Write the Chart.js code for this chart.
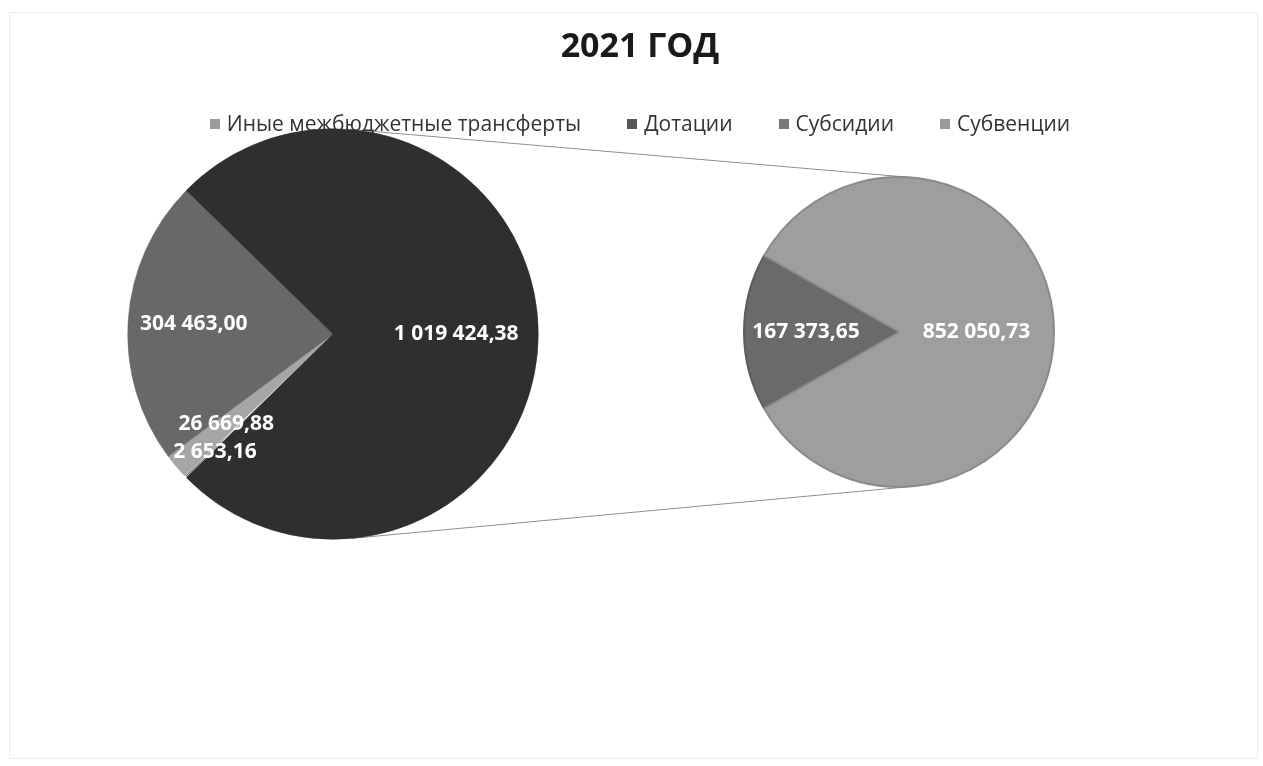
<html>
<head>
<meta charset="UTF-8">
<script src="https://cdn.jsdelivr.net/npm/chart.js@4.4.1/dist/chart.umd.min.js"></script>
<style>
    body { margin: 0; background: #ffffff; font-family: "Open Sans", "DejaVu Sans", sans-serif; }
    #page { position: relative; width: 1263px; height: 766px; overflow: hidden; background: #fff; }
    #frame { position: absolute; left: 9px; top: 12px; width: 1247px; height: 745px; border: 1px solid #ececec; }
    #title { position: absolute; left: 17px; width: 1246px; top: 21px; text-align: center;
             font-size: 34px; font-weight: bold; color: #1a1a1a; line-height: 46px; }
    #legend { position: absolute; left: 17px; width: 1246px; top: 108px; text-align: center;
              font-size: 21px; color: #333333; line-height: 30px; white-space: nowrap; }
    .item { display: inline-block; margin: 0 23px; }
    .box { display: inline-block; width: 10px; height: 10px; margin-right: 7px; vertical-align: 2px; }
    #lines { position: absolute; left: 0; top: 0; z-index: 0; }
    .holder { position: absolute; z-index: 1; }
</style>
<script>
    // данные
    var legendNames = ['Иные межбюджетные трансферты', 'Дотации', 'Субсидии', 'Субвенции'];
    var mainCategories = ['', 'Иные межбюджетные трансферты', 'Дотации', 'Другой'];
    var mainValues = [2653.16, 26669.88, 304463.00, 1019424.38];
    var secondCategories = ['Субсидии', 'Субвенции'];
    var secondValues = [167373.65, 852050.73];

    // цвета (скан в оттенках серого)
    var legendColors = ['#9c9c9c', '#575757', '#777777', '#9a9a9a'];
    var mainColors = ['#505050', '#a6a6a6', '#686868', '#2f2f2f'];
    var mainBorders = ['#ffffff', '#9a9a9a', '#5e5e5e', '#2a2a2a'];
    var secondColors = ['#6a6a6a', '#9e9e9e'];
    var secondBorders = ['#5c5c5c', '#8a8a8a'];

    function fmt(v){
        var parts = v.toFixed(2).split('.');
        var s = parts[0].replace(/\B(?=(\d{3})+(?!\d))/g, ' ');
        return s + ',' + parts[1];
    }

    function sum(a){ return a.reduce(function(p, c){ return p + c; }, 0); }

    var sliceLabels = {
        id: 'sliceLabels',
        afterDatasetsDraw: function(chart, args, opts){
            var ctx = chart.ctx;
            var meta = chart.getDatasetMeta(0);
            var values = chart.data.datasets[0].data;
            var placed = [];
            meta.data.forEach(function(arc, i){
                var p = arc.getProps(['x', 'y', 'startAngle', 'endAngle', 'outerRadius'], true);
                var mid = (p.startAngle + p.endAngle) / 2;
                var r = p.outerRadius * opts.radius[i];
                placed.push({x: p.x + Math.cos(mid) * r, y: p.y + Math.sin(mid) * r, text: fmt(values[i])});
            });
            // раздвигаем подписи, которые налезают друг на друга
            var sorted = placed.slice().sort(function(a, b){ return a.y - b.y; });
            for(var k = 1; k < sorted.length; k++){
                var a = sorted[k - 1], b = sorted[k];
                if(Math.abs(a.x - b.x) < 110 && b.y - a.y < opts.gap){
                    b.y = a.y + opts.gap;
                }
            }
            ctx.save();
            ctx.font = 'bold 21px "Open Sans", "DejaVu Sans", sans-serif';
            ctx.fillStyle = '#ffffff';
            ctx.textAlign = 'center';
            ctx.textBaseline = 'middle';
            placed.forEach(function(l){ ctx.fillText(l.text, l.x, l.y); });
            ctx.restore();
        }
    };

    function pieOptions(rotation, radius){
        return {
            responsive: true,
            maintainAspectRatio: false,
            animation: false,
            rotation: rotation,
            layout: { padding: 0 },
            plugins: {
                legend: { display: false },
                tooltip: { enabled: false },
                sliceLabels: { radius: radius, gap: 28 }
            }
        };
    }

    function drawConnectors(c1, c2, h1, h2){
        var a = c1.getDatasetMeta(0).data[0].getProps(['x', 'y', 'outerRadius'], true);
        var b = c2.getDatasetMeta(0).data[0].getProps(['x', 'y', 'outerRadius'], true);
        var x1 = a.x + h1.offsetLeft, y1 = a.y + h1.offsetTop, r1 = a.outerRadius;
        var x2 = b.x + h2.offsetLeft, y2 = b.y + h2.offsetTop, r2 = b.outerRadius;
        var dx = x2 - x1, dy = y2 - y1, d = Math.sqrt(dx * dx + dy * dy);
        var theta = Math.atan2(dy, dx);
        var alpha = Math.acos((r1 - r2) / d);
        var cv = document.getElementById('lines');
        var ctx = cv.getContext('2d');
        ctx.strokeStyle = '#8e8e8e';
        ctx.lineWidth = 1;
        [theta - alpha, theta + alpha].forEach(function(phi){
            ctx.beginPath();
            ctx.moveTo(x1 + r1 * Math.cos(phi), y1 + r1 * Math.sin(phi));
            ctx.lineTo(x2 + r2 * Math.cos(phi), y2 + r2 * Math.sin(phi));
            ctx.stroke();
        });
    }

    window.onload = function(){
        var lg = document.getElementById('legend');
        legendNames.forEach(function(n, i){
            var it = document.createElement('span');
            it.className = 'item';
            it.innerHTML = '<span class="box" style="background:' + legendColors[i] + '"></span>' + n;
            lg.appendChild(it);
        });

        var leftSpan = 360 * sum(mainValues.slice(0, 3)) / sum(mainValues);
        var mainChart = new Chart(document.getElementById('mainPie'), {
            type: 'pie',
            data: {
                labels: mainCategories,
                datasets: [{
                    data: mainValues,
                    backgroundColor: mainColors,
                    borderColor: mainBorders,
                    borderWidth: [1.5, 0.5, 0.5, 0.5],
                    hoverOffset: 0
                }]
            },
            options: pieOptions(270 - leftSpan / 2, [0.8, 0.68, 0.68, 0.6]),
            plugins: [sliceLabels]
        });

        var darkSpan = 360 * secondValues[0] / sum(secondValues);
        var secondChart = new Chart(document.getElementById('secondPie'), {
            type: 'pie',
            data: {
                labels: secondCategories,
                datasets: [{
                    data: secondValues,
                    backgroundColor: secondColors,
                    borderColor: secondBorders,
                    borderWidth: 2,
                    hoverOffset: 0
                }]
            },
            options: pieOptions(270 - darkSpan / 2, [0.6, 0.5]),
            plugins: [sliceLabels]
        });

        drawConnectors(mainChart, secondChart, document.getElementById('mainHolder'), document.getElementById('secondHolder'));
    };
</script>
</head>
<body>
<div id="page">
    <div id="frame"></div>
    <canvas id="lines" width="1263" height="766"></canvas>
    <div id="title">2021 ГОД</div>
    <div id="legend"></div>
    <div class="holder" id="mainHolder" style="left:127px; top:128px; width:412px; height:412px;">
        <canvas id="mainPie"></canvas>
    </div>
    <div class="holder" id="secondHolder" style="left:743px; top:176px; width:312px; height:312px;">
        <canvas id="secondPie"></canvas>
    </div>
</div>
</body>
</html>
